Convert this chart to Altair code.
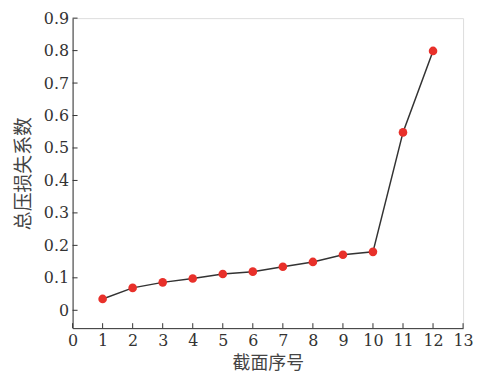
import altair as alt
import pandas as pd

# data
section = list(range(1, 13))
loss = [0.035, 0.069, 0.086, 0.098, 0.112, 0.119, 0.134, 0.149, 0.171, 0.180, 0.548, 0.799]
x_ticks = list(range(0, 14))
y_ticks = [0, 0.1, 0.2, 0.3, 0.4, 0.5, 0.6, 0.7, 0.8, 0.9]

W, H = 393, 312
df = pd.DataFrame({"x": section, "y": loss})
xs = alt.Scale(domain=[0, 13], nice=False, zero=False)
ys = alt.Scale(domain=[-0.055, 0.9], nice=False, zero=False)

serif = "DejaVu Serif"
cjk = "Noto Sans CJK SC"

x_axis = alt.Axis(values=x_ticks, format="d", tickSize=0, labelPadding=4,
                  labelFont=serif, labelFontSize=16, labelColor="#333",
                  labelOverlap=False, labelBound=False,
                  titleFont=cjk, titleFontSize=18,
                  titleFontWeight="normal", titleColor="#444", titlePadding=7,
                  domainColor="#333", grid=False, labelFlush=False)
y_axis = alt.Axis(values=y_ticks, format="~g", tickSize=0, labelPadding=4,
                  labelFont=serif, labelFontSize=16, labelColor="#333",
                  labelOverlap=False, labelBound=False,
                  titleFont=cjk, titleFontSize=19,
                  titleFontWeight="normal", titleColor="#444", titlePadding=10,
                  domainColor="#333", grid=False, labelFlush=False)

XT = "截面序号"
YT = "总压损失系数"

base = alt.Chart(df)
line = base.mark_line(color="#333", strokeWidth=1.5).encode(
    x=alt.X("x:Q", scale=xs, axis=x_axis, title=XT),
    y=alt.Y("y:Q", scale=ys, axis=y_axis, title=YT),
)
pts = base.mark_circle(color="#e8302a", size=75, opacity=1).encode(
    x=alt.X("x:Q", scale=xs, axis=x_axis, title=XT),
    y=alt.Y("y:Q", scale=ys, axis=y_axis, title=YT),
)

xt = alt.Chart(pd.DataFrame({"t": x_ticks})).mark_rule(color="#333", strokeWidth=1).encode(
    x=alt.X("t:Q", scale=xs, axis=x_axis, title=XT),
    y=alt.value(H), y2=alt.value(H - 5)
)
yt = alt.Chart(pd.DataFrame({"t": y_ticks})).mark_rule(color="#333", strokeWidth=1).encode(
    y=alt.Y("t:Q", scale=ys, axis=y_axis, title=YT),
    x=alt.value(0), x2=alt.value(5)
)

chart = alt.layer(xt, yt, line, pts).properties(
    width=W, height=H,
    autosize=alt.AutoSizeParams(type="none"),
    padding={"left": 65, "top": 9, "right": 12, "bottom": 52},
).configure_view(stroke=None).configure(background="white")

chart.save("out.html", embed_options={"renderer": "svg", "actions": False})
